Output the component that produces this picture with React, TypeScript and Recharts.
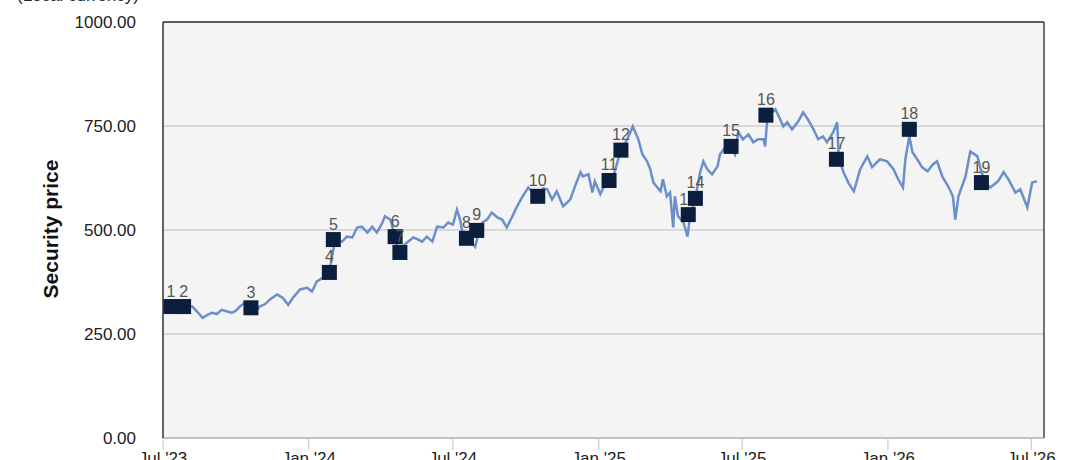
import React from "react";
import {
  ComposedChart,
  Line,
  Scatter,
  XAxis,
  YAxis,
  CartesianGrid,
  ReferenceLine,
} from "recharts";

const lineDates = [
  "2023-07-01", "2023-07-10", "2023-07-20", "2023-07-29", "2023-08-07", "2023-08-13", "2023-08-20", "2023-08-26",
  "2023-09-01", "2023-09-07", "2023-09-13", "2023-09-20", "2023-09-26", "2023-10-01", "2023-10-06", "2023-10-12",
  "2023-10-19", "2023-10-25", "2023-10-31", "2023-11-07", "2023-11-13", "2023-11-22", "2023-11-29", "2023-12-06",
  "2023-12-12", "2023-12-21", "2023-12-30", "2024-01-05", "2024-01-11", "2024-01-19", "2024-01-25", "2024-01-29",
  "2024-02-01", "2024-02-03", "2024-02-12", "2024-02-18", "2024-02-25", "2024-03-02", "2024-03-08", "2024-03-15",
  "2024-03-21", "2024-03-27", "2024-04-03", "2024-04-06", "2024-04-13", "2024-04-18", "2024-04-23", "2024-04-29",
  "2024-05-04", "2024-05-12", "2024-05-17", "2024-05-23", "2024-05-29", "2024-06-05", "2024-06-11", "2024-06-19",
  "2024-06-25", "2024-07-01", "2024-07-06", "2024-07-10", "2024-07-14", "2024-07-19", "2024-07-25", "2024-07-29",
  "2024-08-02", "2024-08-07", "2024-08-13", "2024-08-19", "2024-08-26", "2024-09-01", "2024-09-07", "2024-09-14",
  "2024-09-20", "2024-09-26", "2024-10-04", "2024-10-10", "2024-10-16", "2024-10-23", "2024-10-28", "2024-11-03",
  "2024-11-09", "2024-11-17", "2024-11-26", "2024-12-02", "2024-12-09", "2024-12-12", "2024-12-19", "2024-12-24",
  "2024-12-27", "2025-01-03", "2025-01-09", "2025-01-15", "2025-01-22", "2025-01-28", "2025-02-06", "2025-02-13",
  "2025-02-20", "2025-02-25", "2025-03-03", "2025-03-07", "2025-03-11", "2025-03-16", "2025-03-20", "2025-03-23",
  "2025-03-28", "2025-04-01", "2025-04-05", "2025-04-07", "2025-04-11", "2025-04-18", "2025-04-23", "2025-04-26",
  "2025-04-29", "2025-05-05", "2025-05-09", "2025-05-13", "2025-05-18", "2025-05-24", "2025-05-31", "2025-06-03",
  "2025-06-10", "2025-06-16", "2025-06-22", "2025-06-26", "2025-07-02", "2025-07-09", "2025-07-15", "2025-07-21",
  "2025-07-28", "2025-07-30", "2025-08-02", "2025-08-12", "2025-08-18", "2025-08-22", "2025-08-27", "2025-09-02",
  "2025-09-09", "2025-09-16", "2025-09-22", "2025-09-29", "2025-10-05", "2025-10-11", "2025-10-16", "2025-10-24",
  "2025-10-29", "2025-10-31", "2025-11-06", "2025-11-12", "2025-11-19", "2025-11-27", "2025-12-06", "2025-12-12",
  "2025-12-22", "2025-12-31", "2026-01-08", "2026-01-14", "2026-01-20", "2026-01-23", "2026-01-28", "2026-02-01",
  "2026-02-07", "2026-02-13", "2026-02-20", "2026-02-27", "2026-03-04", "2026-03-11", "2026-03-18", "2026-03-24",
  "2026-03-27", "2026-03-31", "2026-04-09", "2026-04-15", "2026-04-24", "2026-04-29", "2026-05-04", "2026-05-10",
  "2026-05-20", "2026-05-27", "2026-06-02", "2026-06-11", "2026-06-17", "2026-06-26", "2026-07-02", "2026-07-08",
];

const linePrices = [
  313, 314, 311, 316, 316, 304, 289, 296,
  301, 298, 308, 304, 301, 306, 316, 325,
  312, 301, 316, 322, 333, 345, 337, 320,
  337, 357, 361, 352, 376, 386, 398, 420,
  453, 477, 472, 484, 482, 506, 508, 494,
  508, 494, 518, 533, 525, 490, 448, 462,
  470, 482, 478, 472, 484, 472, 508, 506,
  518, 513, 549, 525, 484, 478, 470, 460,
  490, 518, 525, 542, 530, 525, 506, 533,
  557, 578, 602, 590, 585, 600, 598, 573,
  593, 557, 573, 605, 639, 629, 634, 590,
  617, 586, 610, 605, 646, 687, 718, 749,
  718, 682, 665, 646, 614, 602, 593, 622,
  581, 590, 506, 581, 533, 518, 484, 530,
  549, 598, 639, 665, 646, 634, 653, 682,
  699, 701, 682, 735, 718, 730, 711, 718,
  718, 701, 773, 790, 766, 749, 759, 742,
  759, 783, 766, 742, 718, 725, 711, 735,
  759, 670, 639, 614, 593, 646, 677, 651,
  670, 665, 646, 622, 602, 670, 725, 687,
  670, 651, 641, 658, 665, 627, 605, 581,
  525, 581, 629, 689, 677, 640, 615, 602,
  617, 639, 622, 590, 598, 554, 614, 617,
];

const markerNumbers = [1, 2, 3, 4, 5, 6, 7, 8, 9, 10, 11, 12, 13, 14, 15, 16, 17, 18, 19];
const markerDates = [
  "2023-07-11", "2023-07-27", "2023-10-20", "2024-01-27", "2024-02-01", "2024-04-19", "2024-04-25",
  "2024-07-18", "2024-07-31", "2024-10-16", "2025-01-14", "2025-01-29", "2025-04-24", "2025-05-03",
  "2025-06-17", "2025-07-31", "2025-10-28", "2026-01-28", "2026-04-29",
];
const markerPrices = [316, 316, 313, 398, 477, 484, 446, 480, 499, 581, 619, 692, 537, 576, 701, 776, 670, 742, 614];

const tickDates = ["2023-07-01", "2024-01-01", "2024-07-01", "2025-01-01", "2025-07-01", "2026-01-01", "2026-07-01"];
const yTicks = [0, 250, 500, 750, 1000];
const monthNames = ["Jan", "Feb", "Mar", "Apr", "May", "Jun", "Jul", "Aug", "Sep", "Oct", "Nov", "Dec"];

const toTime = (s: string) => {
  const [y, m, d] = s.split("-").map(Number);
  return Date.UTC(y, m - 1, d);
};

const lineData = lineDates.map((d, i) => ({ t: toTime(d), price: linePrices[i] }));
const markerData = markerDates.map((d, i) => ({ t: toTime(d), price: markerPrices[i], n: markerNumbers[i] }));
const xTicks = tickDates.map(toTime);
const xStart = toTime("2023-07-01");
const xEnd = toTime("2026-07-17");

const FONT = "'Liberation Sans', Arial, Helvetica, sans-serif";

const formatTick = (t: number) => {
  const d = new Date(t);
  return `${monthNames[d.getUTCMonth()]} '${String(d.getUTCFullYear()).slice(2)}`;
};

const MarkerShape = (props: any) => {
  const { cx, cy, payload } = props;
  if (cx == null || cy == null) return null;
  return (
    <g>
      <rect x={cx - 7.5} y={cy - 7.5} width={15} height={15} fill="#0c1e3d" />
      <text x={cx} y={cy - 10} textAnchor="middle" fontSize={16} fill="#555" fontFamily={FONT}>
        {payload.n}
      </text>
    </g>
  );
};

export default function App() {
  return (
    <div style={{ position: "absolute", left: 0, top: 0, width: 1080, height: 460, overflow: "hidden", background: "#fff" }}>
      <div
        style={{
          position: "absolute",
          left: 17,
          top: -13,
          fontFamily: FONT,
          fontSize: 17,
          lineHeight: "17px",
          color: "#222",
          whiteSpace: "nowrap",
        }}
      >
        (Local currency)
      </div>
      <ComposedChart width={1080} height={460} margin={{ top: 22, right: 36, bottom: 0, left: 0 }}>
        <CartesianGrid vertical={false} stroke="#bdbdbd" fill="#f4f4f4" fillOpacity={1} />
        <XAxis
          dataKey="t"
          type="number"
          scale="time"
          domain={[xStart, xEnd]}
          ticks={xTicks}
          tickFormatter={formatTick}
          allowDataOverflow
          height={22}
          tickSize={12}
          tickMargin={2}
          axisLine={{ stroke: "#aaa" }}
          tickLine={{ stroke: "#c4c4c4" }}
          tick={{ fontSize: 17, fill: "#222", fontFamily: FONT }}
        />
        <YAxis
          dataKey="price"
          type="number"
          domain={[0, 1000]}
          ticks={yTicks}
          tickFormatter={(v: number) => v.toFixed(2)}
          width={163}
          tickLine={false}
          tickMargin={21}
          axisLine={{ stroke: "#333", strokeWidth: 1.5 }}
          tick={{ fontSize: 17, fill: "#222", fontFamily: FONT }}
          label={{
            content: () => (
              <text
                x={58}
                y={229}
                transform="rotate(-90 58 229)"
                textAnchor="middle"
                fontSize={21}
                fontWeight="bold"
                fill="#111"
                fontFamily={FONT}
              >
                Security price
              </text>
            ),
          }}
        />
        <ReferenceLine y={1000} stroke="#333" strokeWidth={1.5} />
        <ReferenceLine x={xEnd} stroke="#444" strokeWidth={1.5} />
        <Line
          data={lineData}
          dataKey="price"
          type="linear"
          stroke="#6b8fcb"
          strokeWidth={2.5}
          dot={false}
          activeDot={false}
          isAnimationActive={false}
        />
        <Scatter data={markerData} dataKey="price" shape={MarkerShape} isAnimationActive={false} />
      </ComposedChart>
    </div>
  );
}
